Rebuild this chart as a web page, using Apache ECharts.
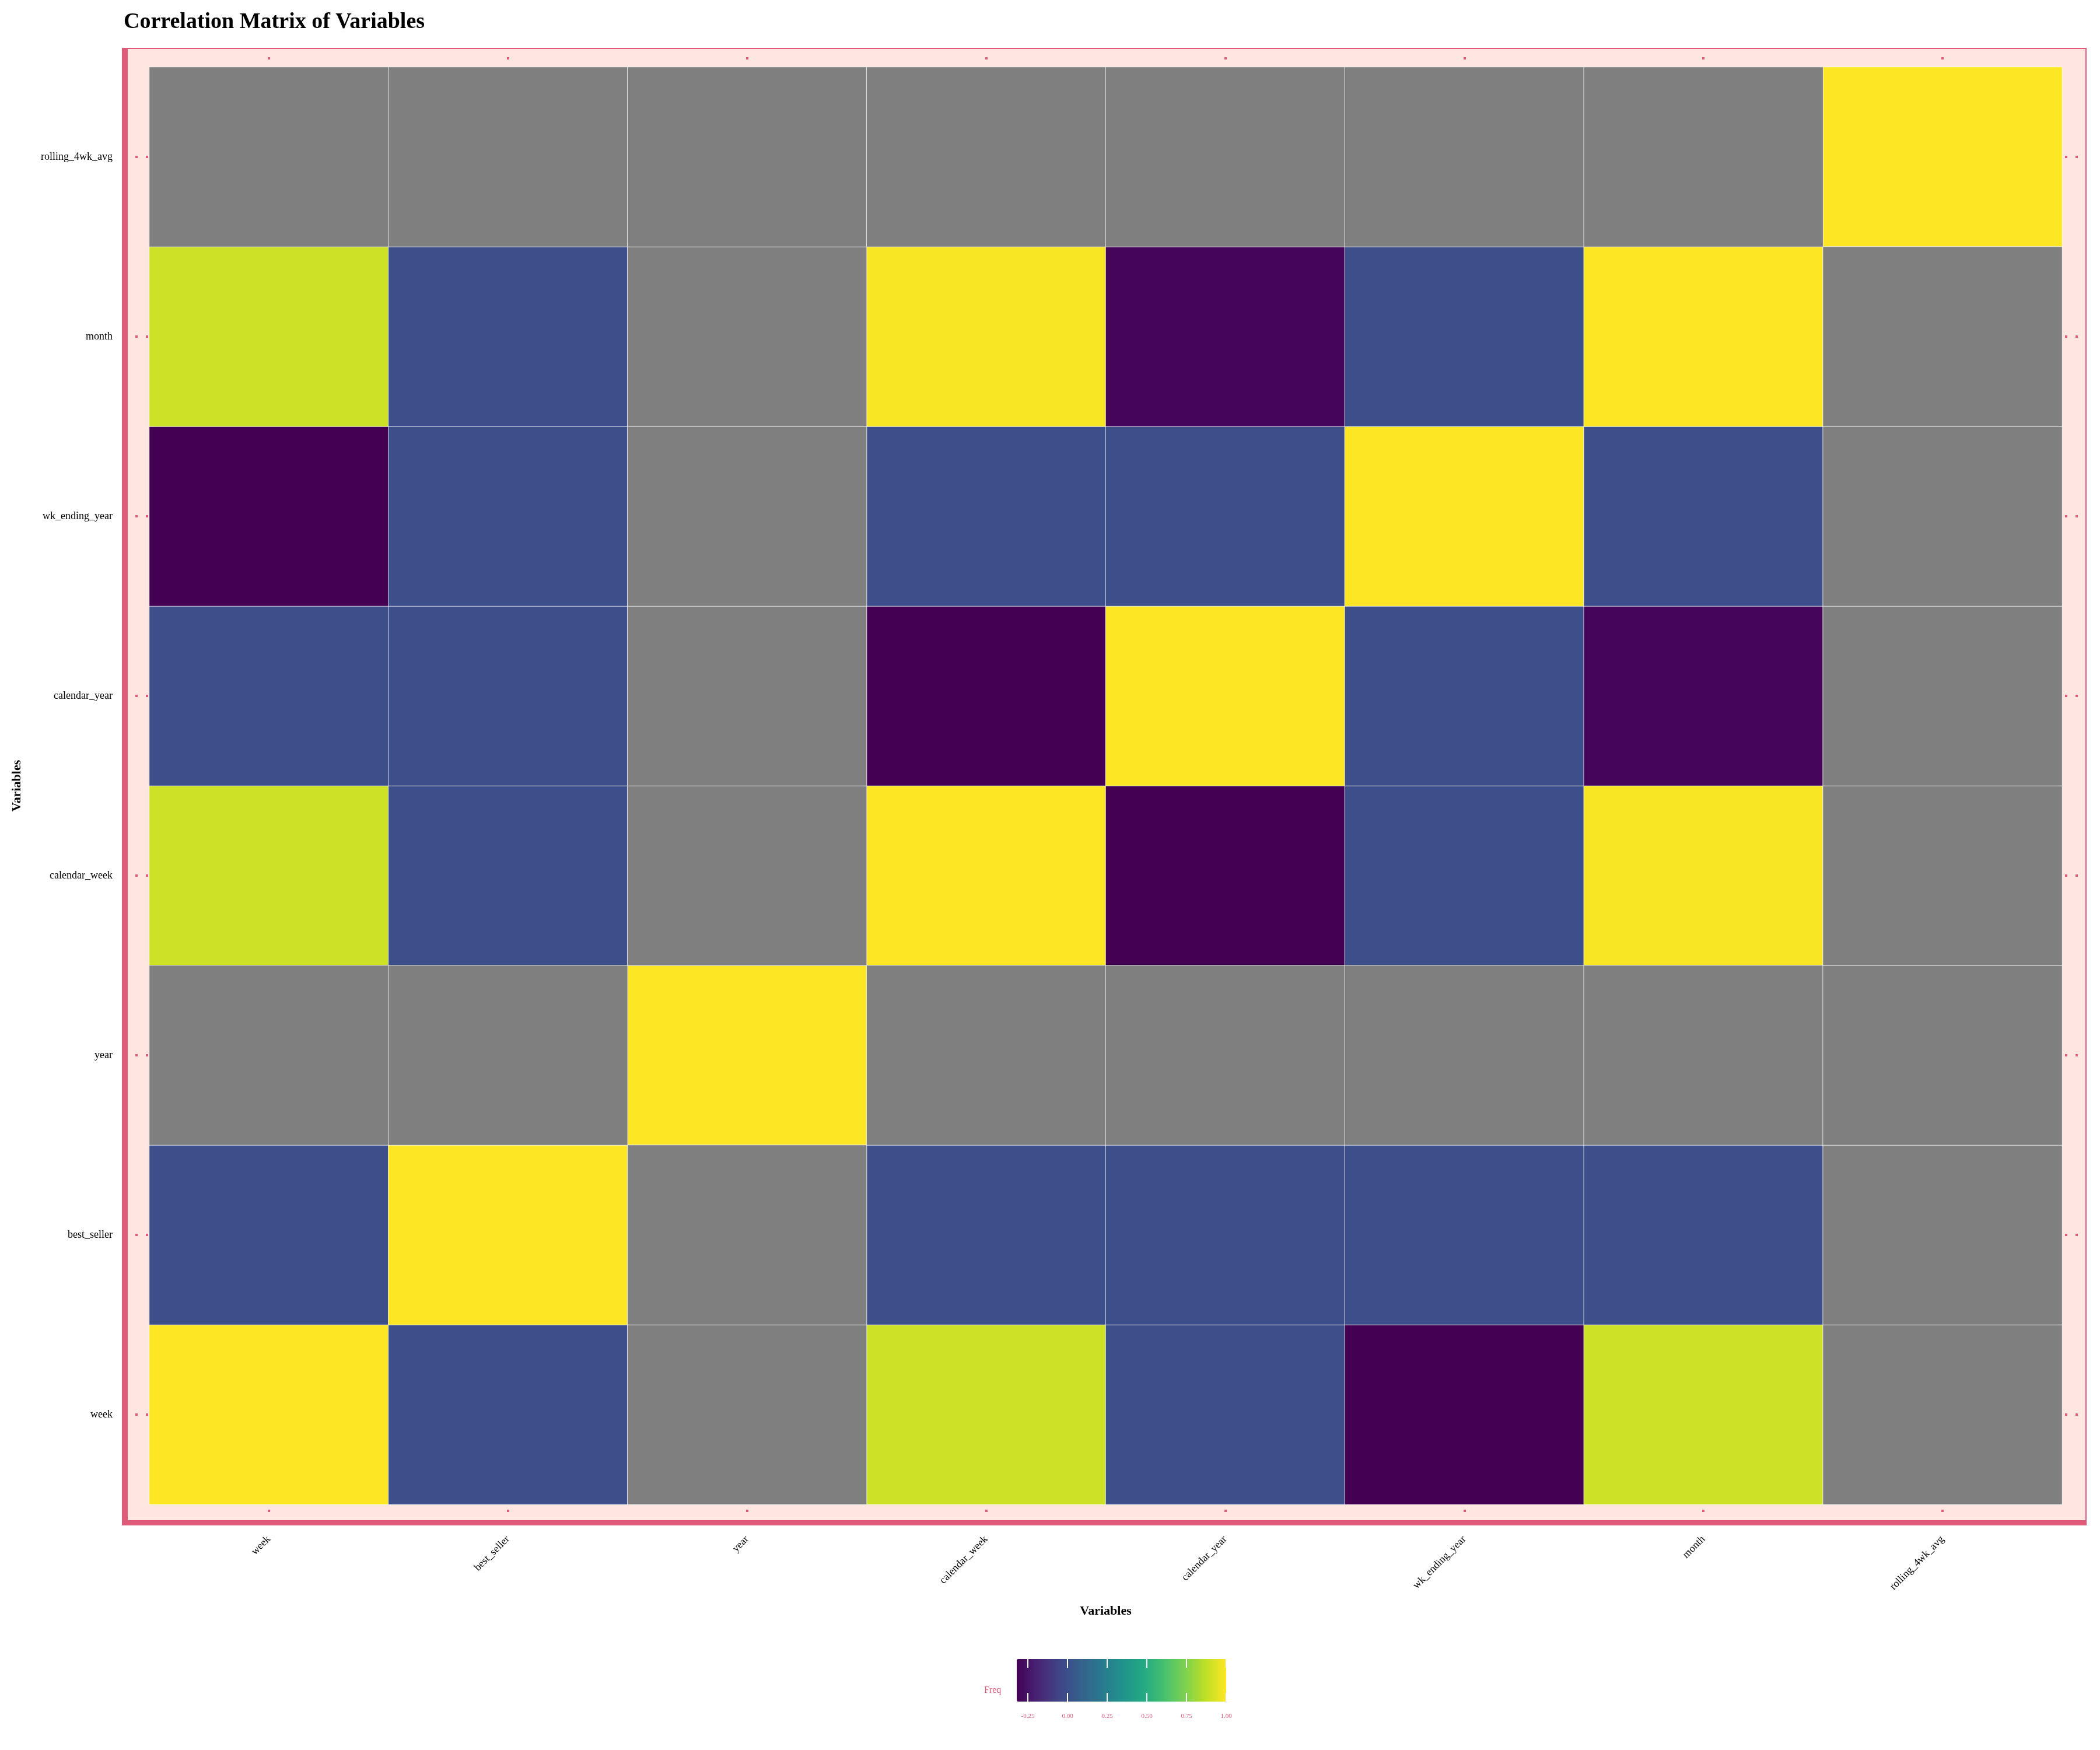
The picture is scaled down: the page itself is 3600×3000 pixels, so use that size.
<!DOCTYPE html>
<html>
<head>
<meta charset="utf-8">
<script src="https://cdn.jsdelivr.net/npm/echarts@6/dist/echarts.min.js"></script>
<style>
  html, body { margin: 0; padding: 0; background: #fff; }
  #heatmap { width: 3600px; height: 3000px; }
</style>
</head>
<body>
<div id="heatmap"></div>
<script>
// variable names, same order on both axes (y goes bottom -> top)
var variables = ['week', 'best_seller', 'year', 'calendar_week', 'calendar_year', 'wk_ending_year', 'month', 'rolling_4wk_avg'];

// correlation rows, one per variable; null = NA (grey cell)
var corrWeek         = [1.00, 0.00, null, 0.90, 0.00, -0.32, 0.90, null];
var corrBestSeller   = [0.00, 1.00, null, 0.00, 0.00, 0.00, 0.00, null];
var corrYear         = [null, null, 1.00, null, null, null, null, null];
var corrCalendarWeek = [0.90, 0.00, null, 1.00, -0.32, 0.00, 0.99, null];
var corrCalendarYear = [0.00, 0.00, null, -0.32, 1.00, 0.00, -0.30, null];
var corrWkEndingYear = [-0.32, 0.00, null, 0.00, 0.00, 1.00, 0.00, null];
var corrMonth        = [0.90, 0.00, null, 0.99, -0.30, 0.00, 1.00, null];
var corrRolling      = [null, null, null, null, null, null, null, 1.00];

var legendTicks = [-0.25, 0, 0.25, 0.5, 0.75, 1];

var rows = [corrWeek, corrBestSeller, corrYear, corrCalendarWeek, corrCalendarYear, corrWkEndingYear, corrMonth, corrRolling];

var values = [];
var naCells = [];
rows.forEach(function (row, y) {
    row.forEach(function (v, x) {
        if (v === null) naCells.push([x, y, 0]);
        else values.push([x, y, v]);
    });
});
var vMin = Math.min.apply(null, values.map(function (d) { return d[2]; }));
var vMax = Math.max.apply(null, values.map(function (d) { return d[2]; }));

var viridis = ['#440154', '#482475', '#414487', '#355F8D', '#2A788E', '#21918C',
               '#22A884', '#44BF70', '#7AD151', '#BDDF26', '#FDE725'];

var pink = '#E05A7A';
var font = 'Liberation Serif';

var dom = document.getElementById('heatmap');
var myChart = echarts.init(dom);

var dotTick = { show: true, length: 4, alignWithLabel: true, lineStyle: { color: pink, width: 4 } };

option = {
    backgroundColor: '#ffffff',
    textStyle: { fontFamily: font },
    title: {
        text: 'Correlation Matrix of Variables',
        left: 207,
        top: 14,
        textStyle: { fontFamily: font, fontSize: 38, fontWeight: 'bold', color: '#000' }
    },
    graphic: [
        { type: 'rect', z: -10, shape: { x: 210, y: 83, width: 3366, height: 2531 },
          style: { fill: '#FFE6E1', stroke: pink, lineWidth: 2 } },
        { type: 'rect', z: -9, shape: { x: 210, y: 83, width: 9, height: 2532 }, style: { fill: pink } },
        { type: 'rect', z: -9, shape: { x: 210, y: 2606, width: 3367, height: 9 }, style: { fill: pink } },
        { type: 'text', left: 1687, top: 2890,
          style: { text: 'Freq', fill: pink, fontSize: 16, fontFamily: font } }
    ],
    grid: [
        { left: 256, right: 65, top: 115, bottom: 421 },
        { left: 1743, top: 2844, width: 359, height: 73 }
    ],
    xAxis: [
        {
            type: 'category', gridIndex: 0, position: 'bottom', offset: 9,
            data: variables,
            axisLine: { show: false },
            axisTick: dotTick,
            axisLabel: { rotate: 45, margin: 48, fontSize: 18, color: '#000', fontFamily: font, interval: 0 },
            splitLine: { show: false },
            name: 'Variables', nameLocation: 'middle', nameGap: 163,
            nameTextStyle: { fontSize: 22, fontWeight: 'bold', color: '#000', fontFamily: font }
        },
        {
            type: 'category', gridIndex: 0, position: 'top', offset: 13,
            data: variables,
            axisLine: { show: false }, axisTick: dotTick, axisLabel: { show: false }
        },
        {
            type: 'value', gridIndex: 1, position: 'bottom', min: vMin, max: vMax, z: 20,
            axisLine: { show: false },
            splitLine: { show: false },
            axisTick: { show: true, inside: true, length: 15, customValues: legendTicks,
                        lineStyle: { color: '#fff', width: 2 } },
            axisLabel: { show: true, customValues: legendTicks, margin: 20, fontSize: 11, color: pink,
                         fontFamily: font, formatter: function (v) { return v.toFixed(2); } }
        },
        {
            type: 'value', gridIndex: 1, position: 'top', min: vMin, max: vMax, z: 20,
            axisLine: { show: false },
            splitLine: { show: false },
            axisTick: { show: true, inside: true, length: 15, customValues: legendTicks,
                        lineStyle: { color: '#fff', width: 2 } },
            axisLabel: { show: false }
        }
    ],
    yAxis: [
        {
            type: 'category', gridIndex: 0, position: 'left', offset: 20,
            data: variables,
            axisLine: { show: false },
            axisTick: dotTick,
            axisLabel: { margin: 43, fontSize: 18, color: '#000', fontFamily: font, interval: 0 },
            splitLine: { show: false },
            name: 'Variables', nameLocation: 'middle', nameGap: 196,
            nameTextStyle: { fontSize: 22, fontWeight: 'bold', color: '#000', fontFamily: font }
        },
        { type: 'category', gridIndex: 0, position: 'left', offset: 2, data: variables,
          axisLine: { show: false }, axisTick: dotTick, axisLabel: { show: false } },
        { type: 'category', gridIndex: 0, position: 'right', offset: 5, data: variables,
          axisLine: { show: false }, axisTick: dotTick, axisLabel: { show: false } },
        { type: 'category', gridIndex: 0, position: 'right', offset: 23, data: variables,
          axisLine: { show: false }, axisTick: dotTick, axisLabel: { show: false } },
        { type: 'value', gridIndex: 1, show: false, min: 0, max: 1 }
    ],
    visualMap: {
        type: 'continuous',
        seriesIndex: 0,
        min: vMin,
        max: vMax,
        orient: 'horizontal',
        left: 1743,
        top: 2844,
        padding: 0,
        z: 1,
        itemWidth: 73,
        itemHeight: 359,
        calculable: false,
        hoverLink: false,
        text: null,
        inRange: { color: viridis }
    },
    series: [
        {
            name: 'Freq',
            type: 'heatmap',
            xAxisIndex: 0,
            yAxisIndex: 0,
            data: values,
            itemStyle: { borderColor: 'rgba(255,255,255,0.75)', borderWidth: 1 },
            emphasis: { disabled: true }
        },
        {
            name: 'NA',
            type: 'heatmap',
            xAxisIndex: 0,
            yAxisIndex: 0,
            data: naCells,
            itemStyle: { color: '#7F7F7F', borderColor: 'rgba(255,255,255,0.75)', borderWidth: 1 },
            emphasis: { disabled: true }
        }
    ]
};

myChart.setOption(option);
</script>
</body>
</html>
